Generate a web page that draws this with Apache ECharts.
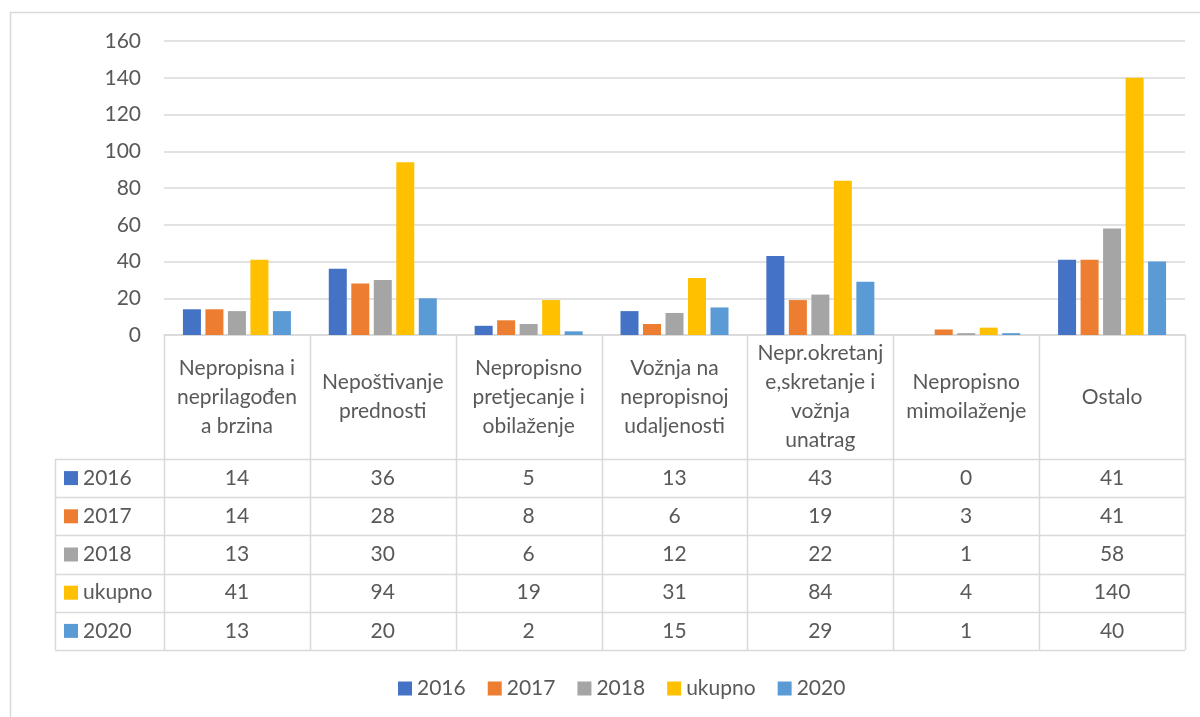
<!DOCTYPE html>
<html>
<head>
<meta charset="utf-8">
<script src="https://cdn.jsdelivr.net/npm/echarts@6/dist/echarts.min.js"></script>
<style>
html,body{margin:0;padding:0;background:#fff;}
#main{width:1200px;height:717px;}
</style>
</head>
<body>
<div id="main"></div>
<script>
const categories = [
  'Nepropisna i\nneprilagođen\na brzina',
  'Nepoštivanje\nprednosti',
  'Nepropisno\npretjecanje i\nobilaženje',
  'Vožnja na\nnepropisnoj\nudaljenosti',
  'Nepr.okretanj\ne,skretanje i\nvožnja\nunatrag',
  'Nepropisno\nmimoilaženje',
  'Ostalo'
];
const seriesNames = ['2016', '2017', '2018', 'ukupno', '2020'];
const values2016 = [14, 36, 5, 13, 43, 0, 41];
const values2017 = [14, 28, 8, 6, 19, 3, 41];
const values2018 = [13, 30, 6, 12, 22, 1, 58];
const valuesUkupno = [41, 94, 19, 31, 84, 4, 140];
const values2020 = [13, 20, 2, 15, 29, 1, 40];
const yMin = 0, yMax = 160, yStep = 20;

const allValues = [values2016, values2017, values2018, valuesUkupno, values2020];
const colors = ['#4472C4', '#ED7D31', '#A5A5A5', '#FFC000', '#5B9BD5'];
const FONT = 'Lato';
const TXT = '#595959';
const LINE = '#d9d9d9';

const chart = echarts.init(document.getElementById('main'));
chart.setOption({
  animation: false,
  color: colors,
  textStyle: { fontFamily: FONT, color: TXT },
  grid: { left: 164, right: 15, top: 41, bottom: 382, containLabel: false },
  legend: {
    data: seriesNames,
    left: 393, top: 673,
    itemWidth: 14, itemHeight: 14, itemGap: 22,
    icon: 'rect',
    textStyle: { fontFamily: FONT, fontSize: 21, color: TXT }
  },
  xAxis: {
    type: 'category',
    data: categories,
    axisLine: { lineStyle: { color: LINE, width: 1.5 } },
    axisTick: { show: false },
    axisLabel: {
      interval: 0, margin: 62, verticalAlign: 'middle',
      fontFamily: FONT, fontSize: 21, lineHeight: 29, color: TXT, align: 'center'
    }
  },
  yAxis: {
    type: 'value', min: yMin, max: yMax, interval: yStep,
    axisLine: { show: false }, axisTick: { show: false },
    splitLine: { lineStyle: { color: LINE, width: 1.5 } },
    axisLabel: { margin: 23, fontFamily: FONT, fontSize: 21, color: TXT }
  },
  series: seriesNames.map((n, i) => ({
    name: n, type: 'bar', data: allValues[i],
    barWidth: 18, barGap: '25%'
  }))
});

function buildTable() {
  const y0 = chart.convertToPixel({ yAxisIndex: 0 }, 0);
  const xs = categories.map((c, i) => chart.convertToPixel({ xAxisIndex: 0 }, i));
  const half = (xs[1] - xs[0]) / 2;
  const leftEdge = xs[0] - half;
  const rightEdge = xs[xs.length - 1] + half;
  const headerBottom = y0 + 124;
  const rowH = 38.2;
  const tableBottom = headerBottom + rowH * seriesNames.length;
  const labelLeft = 55;
  const g = [];
  g.push({ type: 'rect', silent: true, shape: { x: 10.5, y: 12.5, width: 1300, height: 900 },
    style: { fill: null, stroke: LINE, lineWidth: 1.5 } });
  const line = (x1, y1, x2, y2) => g.push({ type: 'line', silent: true,
    shape: { x1, y1, x2, y2 }, style: { stroke: LINE, lineWidth: 1.5 } });
  for (let i = 0; i <= categories.length; i++) {
    const x = Math.round(leftEdge + 2 * half * i) + 0.5;
    line(x, y0, x, tableBottom);
  }
  line(labelLeft + 0.5, headerBottom, labelLeft + 0.5, tableBottom);
  for (let r = 0; r <= seriesNames.length; r++) {
    const y = Math.round(headerBottom + rowH * r) + 0.5;
    line(labelLeft, y, rightEdge, y);
  }
  seriesNames.forEach((n, r) => {
    const cy = headerBottom + rowH * r + rowH / 2;
    g.push({ type: 'rect', silent: true, shape: { x: 64, y: cy - 7, width: 14, height: 14 },
      style: { fill: colors[r] } });
    g.push({ type: 'text', silent: true, x: 83, y: cy,
      style: { text: n, fontFamily: FONT, fontSize: 21, fill: TXT, verticalAlign: 'middle', align: 'left' } });
    allValues[r].forEach((v, c) => {
      g.push({ type: 'text', silent: true, x: xs[c], y: cy,
        style: { text: String(v), fontFamily: FONT, fontSize: 21, fill: TXT, verticalAlign: 'middle', align: 'center' } });
    });
  });
  chart.setOption({ graphic: g });
}
buildTable();
</script>
</body>
</html>
